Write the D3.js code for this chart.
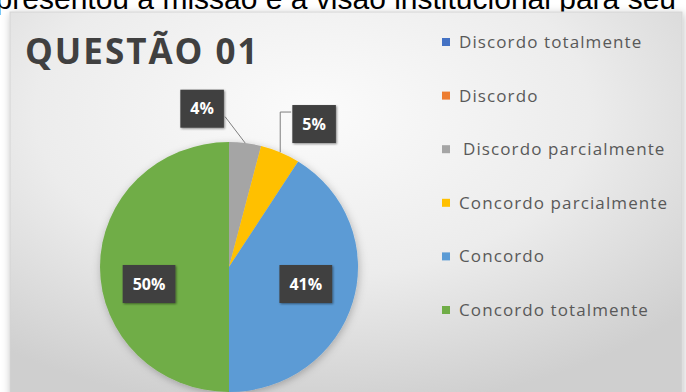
<!DOCTYPE html>
<html>
<head>
<meta charset="utf-8">
<script src="https://cdn.jsdelivr.net/npm/d3@7"></script>
<style>
  html, body { margin: 0; padding: 0; background: #ffffff; }
  svg { display: block; }
</style>
</head>
<body>
<svg id="chart" width="686" height="392"></svg>
<script>
// ── Data ──────────────────────────────────────────────────────────
const categories = [
  'Discordo totalmente',
  'Discordo',
  'Discordo parcialmente',
  'Concordo parcialmente',
  'Concordo',
  'Concordo totalmente'
];
const values  = [0, 0, 4, 5, 41, 50];
const colors  = ['#4472c4', '#ed7d31', '#a5a5a5', '#ffc000', '#5b9bd5', '#70ad47'];
const title   = 'QUESTÃO 01';
const caption = 'apresentou a missão e a visão institucional para seu';

// ── Layout ────────────────────────────────────────────────────────
const cx = 229, cy = 267;
const R  = 129;          // horizontal radius
const ky = 125 / 129;    // the screenshot is slightly squashed vertically

const svg = d3.select('#chart');
const defs = svg.append('defs');

const bg = defs.append('radialGradient')
  .attr('id', 'bg').attr('cx', '45%').attr('cy', '25%').attr('r', '75%');
bg.append('stop').attr('offset', '0%').attr('stop-color', '#fbfbfb');
bg.append('stop').attr('offset', '55%').attr('stop-color', '#ececec');
bg.append('stop').attr('offset', '100%').attr('stop-color', '#cfcfcf');

const shadow = defs.append('filter').attr('id', 'shadow')
  .attr('x', '-20%').attr('y', '-20%').attr('width', '140%').attr('height', '140%');
shadow.append('feDropShadow')
  .attr('dx', 1).attr('dy', 2).attr('stdDeviation', 4)
  .attr('flood-color', '#000').attr('flood-opacity', 0.25);

const boxShadow = defs.append('filter').attr('id', 'boxShadow')
  .attr('x', '-30%').attr('y', '-30%').attr('width', '160%').attr('height', '160%');
boxShadow.append('feDropShadow')
  .attr('dx', 1).attr('dy', 1).attr('stdDeviation', 1.2)
  .attr('flood-color', '#000').attr('flood-opacity', 0.45);

// caption line, cut by the top edge of the screenshot
svg.append('text')
  .attr('x', 676).attr('y', 9)
  .attr('text-anchor', 'end')
  .attr('font-family', 'Liberation Sans, Arial, sans-serif')
  .attr('font-size', 30)
  .attr('fill', '#000')
  .text(caption);

// chart area
svg.append('rect')
  .attr('x', 10).attr('y', 12)
  .attr('width', 672).attr('height', 400)
  .attr('fill', 'url(#bg)')
  .attr('stroke', '#d4d4d4')
  .attr('filter', 'url(#shadow)');

// title
svg.append('text')
  .attr('x', 25).attr('y', 64)
  .attr('font-family', 'Open Sans, sans-serif')
  .attr('font-weight', 700)
  .attr('font-size', 35)
  .attr('letter-spacing', 2)
  .attr('fill', '#404040')
  .text(title);

// ── Pie ───────────────────────────────────────────────────────────
const pie = d3.pie().sort(null).value(d => d.value);
const arcs = pie(categories.map((c, i) => ({ name: c, value: values[i], color: colors[i] })));
const arc = d3.arc().innerRadius(0).outerRadius(R);

const pieG = svg.append('g')
  .attr('transform', `translate(${cx},${cy})`);

pieG.append('g')
  .attr('transform', `scale(1,${ky})`)
  .attr('filter', 'url(#shadow)')
  .selectAll('path')
  .data(arcs.filter(d => d.data.value > 0))
  .join('path')
  .attr('d', arc)
  .attr('fill', d => d.data.color);

// ── Data labels ───────────────────────────────────────────────────
const total = d3.sum(values);
const mid = d => (d.startAngle + d.endAngle) / 2;
const polar = (a, r) => [Math.sin(a) * r, -Math.cos(a) * r * ky];

const shown   = arcs.filter(d => d.data.value > 0);
const inside  = shown.filter(d => d.data.value / total >= 0.1);
const outside = shown.filter(d => d.data.value / total < 0.1);

// inside labels: on one row just below the centre
inside.forEach(d => {
  d.lx = Math.sin(mid(d)) * R * 0.62;
  d.ly = 17;
});

// outside labels: above their slices, pushed apart so they don't collide
outside.forEach(d => {
  const [x, y] = polar(mid(d), R * 1.22);
  d.lx = x; d.ly = y;
  d.edge = polar(mid(d), R);
});
if (outside.length === 2) {
  const spread = 112;
  const m = (outside[0].lx + outside[1].lx) / 2 - 12;
  outside[0].lx = m - spread / 2;
  outside[1].lx = m + spread / 2;
  outside[0].ly -= 7;
  outside[1].ly -= 3;
}

const fmt = d => Math.round(d.data.value / total * 100) + '%';
const boxH = 38;

// leader lines
outside.forEach((d, i) => {
  const [ex, ey] = d.edge;
  const pts = i === 0
    ? [[d.lx + 23, d.ly + 8], [ex, ey]]
    : [[d.lx - 23, d.ly - 12], [ex, d.ly - 12], [ex, ey]];
  pieG.append('path')
    .attr('d', d3.line()(pts))
    .attr('fill', 'none')
    .attr('stroke', '#7f7f7f')
    .attr('stroke-width', 1);
});

const labelG = pieG.selectAll('g.label')
  .data(inside.concat(outside))
  .join('g')
  .attr('class', 'label')
  .attr('transform', d => `translate(${d.lx},${d.ly})`);

labelG.append('text')
  .attr('text-anchor', 'middle')
  .attr('dy', '0.35em')
  .attr('font-family', 'Open Sans, sans-serif')
  .attr('font-weight', 700)
  .attr('font-size', 16)
  .attr('fill', '#ffffff')
  .text(fmt);

labelG.each(function () {
  const g = d3.select(this);
  const bb = g.select('text').node().getBBox();
  g.insert('rect', 'text')
    .attr('x', bb.x - 10).attr('y', -boxH / 2)
    .attr('width', bb.width + 20).attr('height', boxH)
    .attr('fill', '#404040')
    .attr('filter', 'url(#boxShadow)');
});

// ── Legend ────────────────────────────────────────────────────────
const legendY = d3.scalePoint()
  .domain(categories)
  .range([42, 310]);

const legend = svg.append('g').selectAll('g')
  .data(categories)
  .join('g')
  .attr('transform', d => `translate(442,${legendY(d)})`);

legend.append('rect')
  .attr('x', 0).attr('y', -4)
  .attr('width', 8).attr('height', 8)
  .attr('fill', (d, i) => colors[i]);

legend.append('text')
  .attr('x', (d, i) => i === 2 ? 21 : 17)
  .attr('dy', '0.35em')
  .attr('font-family', 'Open Sans, sans-serif')
  .attr('font-size', 17)
  .attr('letter-spacing', 1.1)
  .attr('fill', '#595959')
  .text(d => d);
</script>
</body>
</html>
